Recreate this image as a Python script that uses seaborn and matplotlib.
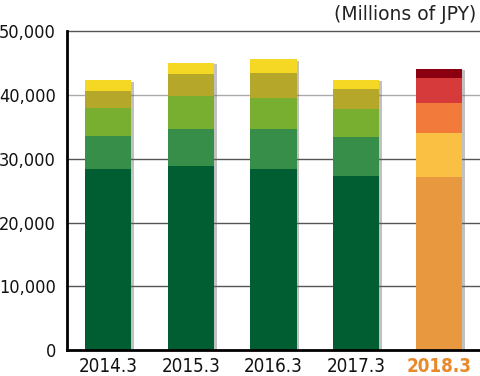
import matplotlib
matplotlib.use("Agg")
import matplotlib.pyplot as plt
import matplotlib.patheffects as pe
import numpy as np
import pandas as pd
import seaborn as sns

years = ["2014.3", "2015.3", "2016.3", "2017.3", "2018.3"]
seg1 = [28400, 28900, 28350, 27350, 27200]
seg2 = [5150, 5750, 6300, 6050, 6800]
seg3 = [4450, 5250, 4950, 4400, 4800]
seg4 = [2650, 3450, 3950, 3150, 3850]
seg5 = [1700, 1700, 2100, 1500, 1500]
yticks = [0, 10000, 20000, 30000, 40000, 50000]
ytick_labels = ["0", "10,000", "20,000", "30,000", "40,000", "50,000"]
unit_label = "(Millions of JPY)"

green_cols = ["#005e32", "#368e49", "#78af30", "#b5a72a", "#f4d823"]
warm_cols = ["#e8983e", "#f9c043", "#f27a3a", "#d63a3b", "#8a0011"]

sns.set_theme(style="white")
plt.rcParams["font.family"] = ["DejaVu Sans"]

fig = plt.figure(figsize=(4.8, 3.76), dpi=100)
ax = fig.add_axes([67 / 480, 26 / 376, 413 / 480, (350 - 31.5) / 376])

segs = [seg1, seg2, seg3, seg4, seg5]
cum = np.cumsum(np.array(segs), axis=0)
shadow = [pe.SimplePatchShadow(offset=(2, -1), shadow_rgbFace="#666666", alpha=0.4), pe.Normal()]
for lvl in range(4, -1, -1):
    df = pd.DataFrame({"year": years, "val": cum[lvl]})
    pal = [green_cols[lvl]] * 4 + [warm_cols[lvl]]
    sns.barplot(data=df, x="year", y="val", hue="year", palette=pal, legend=False,
                width=0.56, saturation=1, ax=ax, zorder=3)

for p in ax.patches:
    p.set_linewidth(0)
for p in ax.patches[:5]:
    p.set_path_effects(shadow)

ax.set_ylim(0, 50000)
ax.set_xlim(-0.5, 4.5)
ax.set_yticks(yticks)
ax.set_yticklabels(ytick_labels)
for y in yticks[1:]:
    c = "#aaaaaa" if y == 40000 else "#555555"
    ax.axhline(y, color=c, lw=1, zorder=1, clip_on=False)

for s in ["top", "right"]:
    ax.spines[s].set_visible(False)
for s in ["left", "bottom"]:
    ax.spines[s].set_color("black")
    ax.spines[s].set_linewidth(2)
    ax.spines[s].set_zorder(5)
ax.set_xlabel("")
ax.set_ylabel("")
ax.tick_params(axis="y", length=0, pad=8)
ax.tick_params(axis="x", length=0, pad=5)
for t in ax.get_yticklabels():
    t.set_fontstretch("condensed")
    t.set_fontsize(13)
    t.set_color("#111111")
for i, t in enumerate(ax.get_xticklabels()):
    t.set_fontstretch("condensed")
    t.set_fontsize(13.5)
    if i == 4:
        t.set_color("#e8892b")
        t.set_fontweight("bold")
    else:
        t.set_color("#111111")

fig.text(476 / 480, 1 - 14 / 376, unit_label, ha="right", va="center", fontsize=13.5,
         color="#222222")

fig.savefig("out.png", dpi=100)
